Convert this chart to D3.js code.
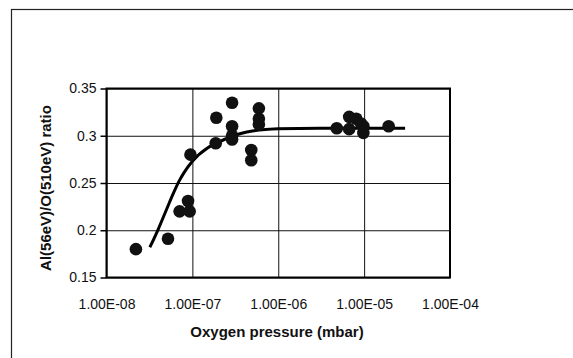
<!DOCTYPE html>
<html>
<head>
<meta charset="utf-8">
<script src="https://cdn.jsdelivr.net/npm/d3@7"></script>
<style>
	body { margin: 0; background: white; }
	svg { display: block; }
	text { font-family: "Liberation Sans", Arial, sans-serif; fill: #111; }
</style>
</head>
<body>
<div id="chart"></div>
<script>

// measured points: oxygen pressure (mbar) and Al/O ratio
var pressure = [2.2e-8, 5.2e-8, 7.1e-8, 9.3e-8, 8.9e-8, 9.5e-8,
	1.87e-7, 1.9e-7, 2.9e-7, 2.9e-7, 2.9e-7, 2.9e-7,
	4.85e-7, 4.85e-7, 5.95e-7, 5.95e-7, 5.95e-7,
	4.8e-6, 6.7e-6, 6.7e-6, 8.1e-6, 9.2e-6, 9.8e-6, 9.8e-6, 1.93e-5];
var ratio = [0.180, 0.191, 0.220, 0.220, 0.231, 0.280,
	0.292, 0.319, 0.335, 0.310, 0.300, 0.296,
	0.285, 0.274, 0.329, 0.318, 0.312,
	0.308, 0.320, 0.307, 0.318, 0.313, 0.310, 0.303, 0.310];

// fitted trend line
var fitPressure = [3.2e-8, 4e-8, 5e-8, 6e-8, 7e-8, 8e-8, 1e-7, 1.5e-7, 2e-7, 3e-7, 5e-7, 1e-6, 3e-6, 1e-5, 3e-5];
var fitRatio = [0.182, 0.201, 0.222, 0.239, 0.252, 0.261, 0.273, 0.287, 0.293, 0.300, 0.305, 0.3075, 0.308, 0.308, 0.308];

var xTicks = [1e-8, 1e-7, 1e-6, 1e-5, 1e-4];
var yTicks = [0.15, 0.2, 0.25, 0.3, 0.35];

var width = 573, height = 358;
var plot = {left: 106.5, right: 450, top: 88.5, bottom: 277.5};

var svg = d3.select("#chart").append("svg")
	.attr("width", width)
	.attr("height", height);

// outer chart frame (cut off at right and bottom)
svg.append("rect")
	.attr("x", 11.5).attr("y", 9.5)
	.attr("width", 700).attr("height", 500)
	.attr("fill", "white")
	.attr("stroke", "#222")
	.attr("stroke-width", 1.2);

var x = d3.scaleLog()
	.domain([1e-8, 1e-4])
	.range([plot.left, plot.right]);

var y = d3.scaleLinear()
	.domain([0.15, 0.35])
	.range([plot.bottom, plot.top]);

// gridlines
var xGrid = d3.axisBottom(x)
	.tickValues(xTicks)
	.tickFormat("")
	.tickSize(-(plot.bottom - plot.top));

svg.append("g")
	.attr("class", "grid")
	.attr("transform", "translate(0," + plot.bottom + ")")
	.call(xGrid)
	.call(g => g.select(".domain").remove())
	.selectAll("line").attr("stroke", "#111").attr("stroke-width", 1);

var yGrid = d3.axisLeft(y)
	.tickValues(yTicks)
	.tickFormat("")
	.tickSize(-(plot.right - plot.left));

svg.append("g")
	.attr("class", "grid")
	.attr("transform", "translate(" + plot.left + ",0)")
	.call(yGrid)
	.call(g => g.select(".domain").remove())
	.selectAll("line").attr("stroke", "#111").attr("stroke-width", 1);

// plot area box
svg.append("rect")
	.attr("x", plot.left).attr("y", plot.top)
	.attr("width", plot.right - plot.left)
	.attr("height", plot.bottom - plot.top)
	.attr("fill", "none")
	.attr("stroke", "#000")
	.attr("stroke-width", 2);

// y axis ticks and labels
var yAxis = d3.axisLeft(y)
	.tickValues(yTicks)
	.tickSize(6)
	.tickPadding(4)
	.tickFormat(d => d3.format("")(+d.toFixed(2)));

svg.append("g")
	.attr("transform", "translate(" + plot.left + ",0)")
	.call(yAxis)
	.call(g => g.select(".domain").remove())
	.call(g => g.selectAll("line").attr("stroke", "#000").attr("stroke-width", 1.5))
	.call(g => g.selectAll("text")
		.attr("font-size", "14px")
		.attr("font-family", "Liberation Sans, Arial, sans-serif")
		.attr("fill", "#111"));

// x axis labels
var xAxis = d3.axisBottom(x)
	.tickValues(xTicks)
	.tickSize(0)
	.tickPadding(22)
	.tickFormat(d => d.toExponential(2).toUpperCase().replace(/E([+-])(\d)$/, "E$10$2"));

svg.append("g")
	.attr("transform", "translate(0," + plot.bottom + ")")
	.call(xAxis)
	.call(g => g.select(".domain").remove())
	.call(g => g.selectAll("text")
		.attr("font-size", "14px")
		.attr("font-family", "Liberation Sans, Arial, sans-serif")
		.attr("fill", "#111"));

// trend line
var line = d3.line()
	.x((d, i) => x(fitPressure[i]))
	.y((d, i) => y(fitRatio[i]))
	.curve(d3.curveMonotoneX);

svg.append("path")
	.datum(fitRatio)
	.attr("fill", "none")
	.attr("stroke", "#000")
	.attr("stroke-width", 3)
	.attr("d", line);

// data points
svg.append("g")
	.selectAll("circle")
	.data(ratio)
	.enter()
	.append("circle")
	.attr("cx", (d, i) => x(pressure[i]))
	.attr("cy", d => y(d))
	.attr("r", 6.3)
	.attr("fill", "#111");

// axis titles
svg.append("text")
	.attr("x", 277)
	.attr("y", 337)
	.attr("text-anchor", "middle")
	.attr("font-size", "15px")
	.attr("font-weight", "bold")
	.text("Oxygen pressure (mbar)");

svg.append("text")
	.attr("transform", "translate(51,188) rotate(-90)")
	.attr("text-anchor", "middle")
	.attr("font-size", "15px")
	.attr("font-weight", "bold")
	.text("Al(56eV)/O(510eV) ratio");

</script>
</body>
</html>
